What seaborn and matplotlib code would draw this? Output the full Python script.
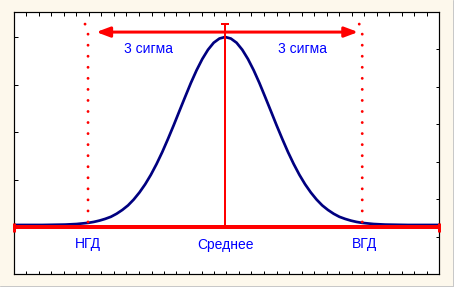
import numpy as np
import matplotlib
matplotlib.use("Agg")
import matplotlib.pyplot as plt
import seaborn as sns
from matplotlib.lines import Line2D

# ---- data (x in sigma units, y relative to curve peak) ----
curve_x = [-4.62, -4.25, -4.0, -3.75, -3.5, -3.25,
           -3.0, -2.875, -2.75, -2.625, -2.5, -2.375, -2.25, -2.125, -2.0,
           -1.875, -1.75, -1.625, -1.5, -1.375, -1.25, -1.125, -1.0,
           -0.875, -0.75, -0.625, -0.5, -0.375, -0.25, -0.125, 0.0,
           0.125, 0.25, 0.375, 0.5, 0.625, 0.75, 0.875, 1.0,
           1.125, 1.25, 1.375, 1.5, 1.625, 1.75, 1.875, 2.0,
           2.125, 2.25, 2.375, 2.5, 2.625, 2.75, 2.875, 3.0,
           3.25, 3.5, 3.75, 4.0, 4.25, 4.68]
curve_y = [0.011, 0.011, 0.011, 0.012, 0.013, 0.016,
           0.022, 0.027, 0.034, 0.043, 0.054, 0.070, 0.090, 0.114, 0.145,
           0.182, 0.225, 0.275, 0.332, 0.395, 0.464, 0.536, 0.611,
           0.685, 0.758, 0.825, 0.884, 0.933, 0.970, 0.992, 1.000,
           0.992, 0.970, 0.933, 0.884, 0.825, 0.758, 0.685, 0.611,
           0.536, 0.464, 0.395, 0.332, 0.275, 0.225, 0.182, 0.145,
           0.114, 0.090, 0.070, 0.054, 0.043, 0.034, 0.027, 0.022,
           0.016, 0.013, 0.012, 0.011, 0.011, 0.011]
mean_x = 0.0
limit_x = [-3.0, 3.0]            # НГД, ВГД
limit_labels = ["НГД", "ВГД"]
mean_label = "Среднее"
sigma_label = "3 сигма"
arrow_tips = [-2.82, 2.91]
arrow_y = 1.026
mean_top = 1.068
dotted_top = 1.047
xlim = (-4.62, 4.68)
ylim = (-0.247, 1.1316)

RED = "#ff0000"
NAVY = "#000080"
BLUE = "#0000ff"
BG = "#fdf8ec"

sns.set_style("white")
plt.rcParams["font.family"] = ["Liberation Sans", "DejaVu Sans"]

W, H = 454, 287
fig = plt.figure(figsize=(W / 100, H / 100), dpi=100, facecolor=BG)
ax = fig.add_axes([14 / W, 13 / H, 425 / W, 262 / H])
ax.set_facecolor("white")
ax.set_xlim(*xlim)
ax.set_ylim(*ylim)

px = 72 / 100  # points per pixel

# curve
sns.lineplot(x=curve_x, y=curve_y, ax=ax, color=NAVY, lw=2.7 * px, zorder=2)

# baseline with end caps
ax.plot(xlim, [0, 0], color=RED, lw=4 * px, solid_capstyle="butt", zorder=3, clip_on=False)
cap_h = 4.5 / 190
for xe in xlim:
    ax.plot([xe, xe], [-cap_h, cap_h], color=RED, lw=3 * px, solid_capstyle="butt",
            zorder=3, clip_on=False)

# mean line with T cap
ax.plot([mean_x, mean_x], [0, mean_top], color=RED, lw=2 * px, zorder=3)
ax.plot([mean_x - 0.0875, mean_x + 0.0875], [mean_top, mean_top], color=RED, lw=2 * px,
        solid_capstyle="butt", zorder=3)

# dotted limit lines
slant = 3 / 45.7
for xl in limit_x:
    ax.plot([xl - slant, xl, xl], [dotted_top + 0.021, dotted_top, 0], color=RED,
            lw=2.9 * px, linestyle=(0, (0.01, 3.8)), dash_capstyle="round", zorder=3)

# arrows
for tip in arrow_tips:
    ax.annotate("", xy=(tip, arrow_y), xytext=(mean_x, arrow_y),
                arrowprops=dict(arrowstyle="-|>,head_length=0.8,head_width=0.3",
                                color=RED, lw=3 * px, shrinkA=0, shrinkB=0,
                                mutation_scale=10), zorder=4)

# labels
ax.text(-1.685, 0.938, sigma_label, color=BLUE, fontsize=10, ha="center", va="center")
ax.text(1.685, 0.938, sigma_label, color=BLUE, fontsize=10, ha="center", va="center")
ax.text(limit_x[0], -0.087, limit_labels[0], color=BLUE, fontsize=10, ha="center", va="center")
ax.text(limit_x[1] + 0.05, -0.091, limit_labels[1], color=BLUE, fontsize=10, ha="center", va="center")
ax.text(mean_x, -0.097, mean_label, color=BLUE, fontsize=10, ha="center", va="center")

# ticks / frame
for s in ax.spines.values():
    s.set_visible(True)
    s.set_color("black")
    s.set_linewidth(1.2 * px)
ax.set_xticks(np.linspace(xlim[0], xlim[1], 35))
ax.set_yticks([0, 0.25, 0.5, 0.75, 1.0])
ax.tick_params(axis="both", direction="in", length=3.5 * px, width=1 * px, color="black",
               top=True, bottom=True, left=True, right=False,
               labelbottom=False, labelleft=False)
ax2 = ax.twinx()
ax2.set_ylim(0, 7)
ax2.set_yticks([1, 2, 3, 4, 5, 6])
ax2.tick_params(axis="y", direction="in", length=3.5 * px, width=1 * px, color="black",
                labelright=False, right=True, left=False)
for s in ax2.spines.values():
    s.set_visible(False)
ax2.grid(False)
ax.grid(False)

# outer bevel lines
fig.add_artist(Line2D([0, 1], [0.6 / H, 0.6 / H], transform=fig.transFigure, color="#c8c8c8", lw=1 * px))
fig.add_artist(Line2D([1 - 0.6 / W, 1 - 0.6 / W], [0, 1], transform=fig.transFigure, color="#c8c8c8", lw=1 * px))

fig.savefig("out.png", dpi=100, facecolor=BG)
